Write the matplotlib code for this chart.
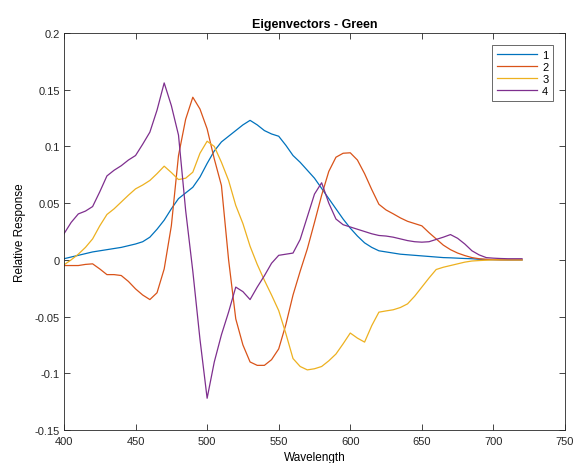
import numpy as np
import matplotlib.pyplot as plt

plt.rcParams['font.family'] = ['Liberation Sans', 'DejaVu Sans']

# wavelength grid (nm) and eigenvector components for the green channel
wavelength = np.arange(400, 725, 5)

ev1 = [0.001, 0.0025, 0.004, 0.0055, 0.007, 0.008, 0.009, 0.010, 0.011, 0.0125,
       0.014, 0.016, 0.020, 0.027, 0.035, 0.045, 0.054, 0.059, 0.064, 0.073,
       0.085, 0.096, 0.104, 0.109, 0.114, 0.119, 0.123, 0.119, 0.114, 0.111,
       0.109, 0.101, 0.092, 0.086, 0.079, 0.072, 0.063, 0.054, 0.045, 0.036,
       0.028, 0.021, 0.015, 0.011, 0.008, 0.007, 0.006, 0.005, 0.0045, 0.004,
       0.0035, 0.003, 0.0025, 0.002, 0.0018, 0.0015, 0.0012, 0.001, 0.0005, 0.0003,
       0.0002, 0.0001, 0.0, 0.0, 0.0]

ev2 = [-0.005, -0.005, -0.005, -0.004, -0.0035, -0.008, -0.013, -0.013, -0.0138, -0.019,
       -0.0256, -0.031, -0.035, -0.029, -0.008, 0.030, 0.092, 0.124, 0.1434, 0.133,
       0.1155, 0.089, 0.0655, 0.0, -0.052, -0.075, -0.090, -0.093, -0.093, -0.088,
       -0.0785, -0.057, -0.031, -0.010, 0.0097, 0.033, 0.057, 0.078, 0.0905, 0.094,
       0.0944, 0.088, 0.076, 0.062, 0.049, 0.044, 0.0406, 0.037, 0.034, 0.032,
       0.030, 0.024, 0.0185, 0.013, 0.009, 0.006, 0.0038, 0.002, 0.001, 0.0005,
       0.0002, 0.0, 0.0, 0.0, 0.0]

ev3 = [-0.0044, 0.0, 0.005, 0.011, 0.0185, 0.030, 0.040, 0.045, 0.051, 0.057,
       0.0626, 0.066, 0.070, 0.076, 0.0826, 0.077, 0.0708, 0.072, 0.0773, 0.094,
       0.1046, 0.100, 0.086, 0.070, 0.048, 0.032, 0.012, -0.004, -0.018, -0.031,
       -0.0447, -0.065, -0.087, -0.094, -0.097, -0.096, -0.094, -0.089, -0.083, -0.074,
       -0.0645, -0.069, -0.0725, -0.058, -0.0461, -0.045, -0.044, -0.042, -0.0388, -0.032,
       -0.024, -0.016, -0.0085, -0.0065, -0.005, -0.0035, -0.002, -0.001, -0.0006, -0.0003,
       0.0, 0.0, 0.0, 0.0, 0.0]

ev4 = [0.023, 0.033, 0.0405, 0.043, 0.047, 0.060, 0.074, 0.079, 0.083, 0.088,
       0.092, 0.102, 0.1126, 0.132, 0.156, 0.136, 0.110, 0.0435, -0.010, -0.070,
       -0.122, -0.090, -0.066, -0.046, -0.024, -0.028, -0.035, -0.024, -0.014, -0.003,
       0.004, 0.005, 0.006, 0.018, 0.038, 0.058, 0.068, 0.050, 0.036, 0.031,
       0.029, 0.027, 0.025, 0.023, 0.0215, 0.021, 0.020, 0.0185, 0.017, 0.016,
       0.0156, 0.016, 0.018, 0.020, 0.0223, 0.019, 0.014, 0.008, 0.0044, 0.002,
       0.0015, 0.0012, 0.001, 0.001, 0.001]

series = [ev1, ev2, ev3, ev4]
names = ['1', '2', '3', '4']
colors = ['#0072BD', '#D95319', '#EDB120', '#7E2F8E']

fig = plt.figure(figsize=(5.87, 4.64), dpi=100)
ax = fig.add_axes([0.109, 0.0711, 0.8535, 0.8556])

for vals, name, c in zip(series, names, colors):
    ax.plot(wavelength, vals, color=c, lw=0.9, label=name)

ax.set_xlim(400, 750)
ax.set_ylim(-0.15, 0.2)
ax.set_xticks(np.arange(400, 751, 50))
yt = np.round(np.arange(-0.15, 0.201, 0.05), 2)
ax.set_yticks(yt)
ax.set_yticklabels(['%g' % v for v in yt])

for s in ax.spines.values():
    s.set_color('#262626')
    s.set_linewidth(0.6)
ax.tick_params(direction='in', length=4, width=0.6, colors='#262626',
               labelsize=8, top=True, right=True)
ax.tick_params(axis='x', pad=4.5)
ax.tick_params(axis='y', pad=3)

ax.set_title('Eigenvectors - Green', fontsize=9, fontweight='bold', pad=4)
ax.set_xlabel('Wavelength', fontsize=8.5, labelpad=3.5)
ax.set_ylabel('Relative Response', fontsize=8.5, labelpad=6)

leg = ax.legend(loc='upper right', fontsize=8, frameon=True, fancybox=False,
                handlelength=3.6, borderaxespad=1.05, labelspacing=0.2,
                borderpad=0.45, handletextpad=0.45)
leg.get_frame().set_edgecolor('#262626')
leg.get_frame().set_linewidth(0.6)

fig.savefig('out.png', dpi=100)
